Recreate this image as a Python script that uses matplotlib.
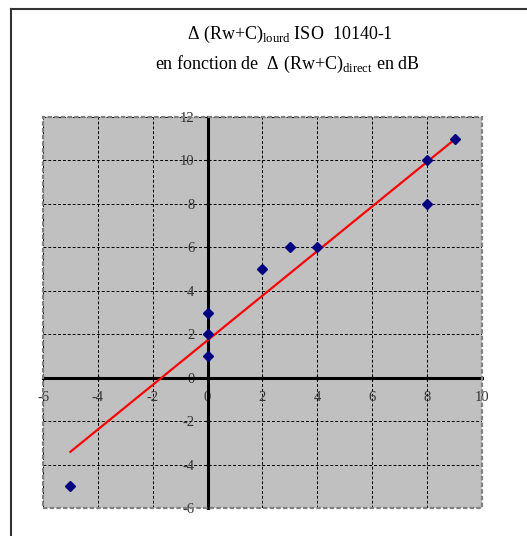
import numpy as np
import matplotlib
matplotlib.use("Agg")
import matplotlib.pyplot as plt
from matplotlib.patches import Rectangle
from matplotlib.lines import Line2D

plt.rcParams['font.family'] = ['Liberation Serif', 'DejaVu Sans']
plt.rcParams['mathtext.fontset'] = 'custom'
plt.rcParams['mathtext.rm'] = 'Liberation Serif'
plt.rcParams['axes.unicode_minus'] = False

# delta (Rw+C) direct vs delta (Rw+C) lourd
delta_direct = [-5, 0, 0, 0, 2, 3, 4, 8, 8, 9]
delta_lourd = [-5, 1, 2, 3, 5, 6, 6, 8, 10, 11]

x_ticks = list(range(-6, 11, 2))
y_ticks = list(range(-6, 13, 2))

fig = plt.figure(figsize=(5.27, 5.36), dpi=100)
ax = fig.add_axes([43 / 527, 28 / 536, 439 / 527, 391 / 536])
ax.set_facecolor('#C0C0C0')

ax.set_xlim(-6, 10)
ax.set_ylim(-6, 12)
ax.set_xticks(x_ticks)
ax.set_yticks(y_ticks)
ax.grid(True, color='black', linestyle=(0, (3, 2)), linewidth=0.7)
ax.set_axisbelow(True)

# excel style axes crossing at zero
for side in ['top', 'right']:
    ax.spines[side].set_visible(False)
for side in ['left', 'bottom']:
    ax.spines[side].set_position(('data', 0))
    ax.spines[side].set_linewidth(2.2)
    ax.spines[side].set_color('black')
    ax.spines[side].set_zorder(3)
ax.tick_params(axis='both', direction='inout', length=3, width=1,
               labelsize=10.5, labelcolor='#333333', pad=8)

# dashed grey border around plot area
ax.add_patch(Rectangle((0, 0), 1, 1, transform=ax.transAxes, fill=False,
                       edgecolor='#808080', linestyle=(0, (2, 1)),
                       linewidth=1.6, clip_on=False, zorder=4))

ax.plot(delta_direct, delta_lourd, 'D', color='#000080', markersize=4.8,
        zorder=5, clip_on=False)

# linear trend line
slope, intercept = np.polyfit(delta_direct, delta_lourd, 1)
xs = np.array([min(delta_direct), max(delta_direct)])
ax.plot(xs, slope * xs + intercept, color='#FF0000', linewidth=1.6, zorder=4)

# title, two lines
fig.text(290 / 527, 1 - 34 / 536,
         r'Δ (Rw+C)$_{\mathrm{lourd}}$ ISO  10140-1',
         ha='center', va='center', fontsize=13)
fig.text(287 / 527, 1 - 64 / 536,
         r'en fonction de  Δ (Rw+C)$_{\mathrm{direct}}$ en dB',
         ha='center', va='center', fontsize=13)

# chart area frame (only top and left edges fall inside the picture)
fig.add_artist(Line2D([11 / 527, 11 / 527], [0, 1 - 9 / 536],
                      transform=fig.transFigure, color='#333333', linewidth=1.5))
fig.add_artist(Line2D([11 / 527, 1], [1 - 9 / 536, 1 - 9 / 536],
                      transform=fig.transFigure, color='#333333', linewidth=1.5))

fig.savefig('out.png', dpi=100)
